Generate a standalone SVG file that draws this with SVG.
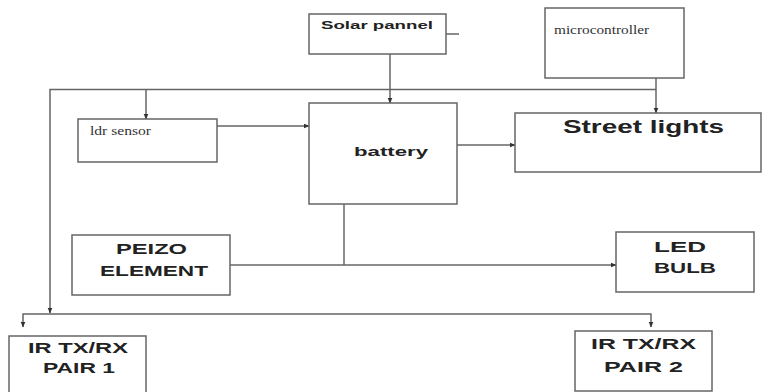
<svg xmlns="http://www.w3.org/2000/svg" width="762" height="392" viewBox="0 0 762 392">
<defs>
<marker id="arr" markerWidth="6" markerHeight="6" refX="5.5" refY="3" orient="auto" markerUnits="userSpaceOnUse">
<path d="M0,0.5 L6,3 L0,5.5 Z" fill="#333"/>
</marker>
<style>
.box{fill:#fff;stroke:#666;stroke-width:1.5}
.ln{fill:none;stroke:#666;stroke-width:1.5}
.b{font-family:"Liberation Sans",Arial,sans-serif;font-weight:bold;fill:#222}
.s{font-family:"Liberation Serif","Times New Roman",serif;fill:#333}
</style>
</defs>
<rect width="762" height="392" fill="#fff"/>
<g id="connectors">
<line class="ln" x1="446" y1="34" x2="459" y2="34"/>
<line class="ln" x1="390" y1="54" x2="390" y2="103" marker-end="url(#arr)"/>
<polyline class="ln" points="656,89.5 50,89.5 50,313" marker-end="url(#arr)"/>
<line class="ln" x1="656" y1="78" x2="656" y2="113" marker-end="url(#arr)"/>
<line class="ln" x1="146" y1="89.5" x2="146" y2="119" marker-end="url(#arr)"/>
<line class="ln" x1="217" y1="126" x2="309" y2="126" marker-end="url(#arr)"/>
<line class="ln" x1="457" y1="145" x2="515" y2="145" marker-end="url(#arr)"/>
<line class="ln" x1="344" y1="204" x2="344" y2="265"/>
<line class="ln" x1="230" y1="265" x2="616" y2="265" marker-end="url(#arr)"/>
<polyline class="ln" points="50,314 651,314 651,327" marker-end="url(#arr)"/>
<polyline class="ln" points="50,314 23,314 23,327" marker-end="url(#arr)"/>
</g>
<g id="solar">
<rect class="box" x="309" y="14" width="137" height="40"/>
<text class="b" x="321" y="29" font-size="11.5" textLength="112" lengthAdjust="spacingAndGlyphs">Solar pannel</text>
</g>
<g id="microcontroller">
<rect class="box" x="545" y="8" width="139" height="70"/>
<text class="s" x="554" y="34" font-size="13" textLength="95" lengthAdjust="spacingAndGlyphs">microcontroller</text>
</g>
<g id="ldr">
<rect class="box" x="78" y="119" width="139" height="43"/>
<text class="s" x="90" y="135" font-size="13" textLength="61" lengthAdjust="spacingAndGlyphs">ldr sensor</text>
</g>
<g id="battery">
<rect class="box" x="309" y="103" width="148" height="101"/>
<text class="b" x="354" y="156" font-size="13.5" textLength="74" lengthAdjust="spacingAndGlyphs">battery</text>
</g>
<g id="streetlights">
<rect class="box" x="515" y="113" width="246" height="59"/>
<text class="b" x="563" y="133" font-size="18" textLength="161" lengthAdjust="spacingAndGlyphs">Street lights</text>
</g>
<g id="peizo">
<rect class="box" x="72" y="235" width="158" height="60"/>
<text class="b" x="116" y="254" font-size="15.5" textLength="71" lengthAdjust="spacingAndGlyphs">PEIZO</text>
<text class="b" x="100" y="276" font-size="15.5" textLength="108" lengthAdjust="spacingAndGlyphs">ELEMENT</text>
</g>
<g id="led">
<rect class="box" x="616" y="232" width="138" height="60"/>
<text class="b" x="654" y="252" font-size="15.5" textLength="52" lengthAdjust="spacingAndGlyphs">LED</text>
<text class="b" x="654" y="273" font-size="15.5" textLength="62" lengthAdjust="spacingAndGlyphs">BULB</text>
</g>
<g id="ir1">
<rect class="box" x="9" y="336" width="137" height="60"/>
<text class="b" x="28" y="353" font-size="15.5" textLength="100" lengthAdjust="spacingAndGlyphs">IR TX/RX</text>
<text class="b" x="43" y="373" font-size="15.5" textLength="72" lengthAdjust="spacingAndGlyphs">PAIR 1</text>
</g>
<g id="ir2">
<rect class="box" x="575" y="331" width="137" height="60"/>
<text class="b" x="591" y="349" font-size="15.5" textLength="105" lengthAdjust="spacingAndGlyphs">IR TX/RX</text>
<text class="b" x="604" y="372" font-size="15.5" textLength="79" lengthAdjust="spacingAndGlyphs">PAIR 2</text>
</g>
</svg>
